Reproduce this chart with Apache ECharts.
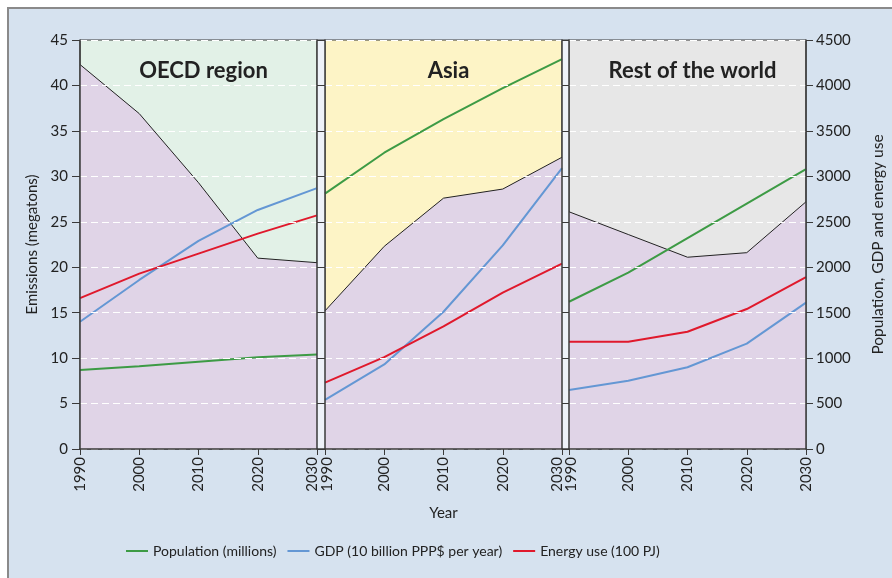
<!DOCTYPE html>
<html>
<head>
<meta charset="utf-8">
<script src="https://cdn.jsdelivr.net/npm/echarts@6/dist/echarts.min.js"></script>
<style>
html,body{margin:0;padding:0;background:#fff;}
#chart{width:892px;height:578px;}
</style>
</head>
<body>
<div id="chart"></div>
<script>
const years = [1990, 2000, 2010, 2020, 2030];
const panelTitles = ['OECD region', 'Asia', 'Rest of the world'];
const seriesNames = ['Population (millions)', 'GDP (10 billion PPP$ per year)', 'Energy use (100 PJ)'];

const oecdEmissions = [42.3, 36.9, 29.3, 21.0, 20.5];
const oecdPopulation = [870, 910, 960, 1010, 1040];
const oecdGdp = [1400, 1860, 2290, 2630, 2870];
const oecdEnergy = [1660, 1930, 2150, 2370, 2570];

const asiaEmissions = [15.2, 22.3, 27.6, 28.6, 32.1];
const asiaPopulation = [2810, 3260, 3630, 3970, 4290];
const asiaGdp = [540, 930, 1510, 2240, 3090];
const asiaEnergy = [730, 1010, 1350, 1720, 2040];

const rowEmissions = [26.1, 23.6, 21.1, 21.6, 27.2];
const rowPopulation = [1620, 1940, 2320, 2700, 3080];
const rowGdp = [650, 750, 900, 1160, 1610];
const rowEnergy = [1180, 1180, 1290, 1540, 1890];

const emissionTicks = {min: 0, max: 45, interval: 5};
const otherTicks = {min: 0, max: 4500, interval: 500};

const panels = [
  {title: panelTitles[0], emissions: oecdEmissions, pop: oecdPopulation, gdp: oecdGdp, energy: oecdEnergy, bg: '#e2f1e7'},
  {title: panelTitles[1], emissions: asiaEmissions, pop: asiaPopulation, gdp: asiaGdp, energy: asiaEnergy, bg: '#fdf4c6'},
  {title: panelTitles[2], emissions: rowEmissions, pop: rowPopulation, gdp: rowGdp, energy: rowEnergy, bg: '#e7e7e7'}
];

const FONT = 'Lato, "Open Sans", sans-serif';
const lineColors = ['#3d9b45', '#6497d4', '#e0192c'];
const purple = '#e0d4e7';
const axisColor = '#3a3a3a';
const textColor = '#222222';
const gridLefts = [80, 325, 569];
const gridW = 237, gridTop = 40, gridH = 409;

const pairs = (vals) => years.map((y, i) => [y, vals[i]]);
const plain = (v) => String(v);
const labelStyle = {fontSize: 15, color: textColor, fontFamily: FONT};

const grids = [], xAxes = [], yAxes = [], series = [], titles = [];
panels.forEach((p, k) => {
  const shiftMin = k > 0, shiftMax = k < 2;
  grids.push({left: gridLefts[k], top: gridTop, width: gridW, height: gridH, show: true,
    backgroundColor: p.bg, borderColor: axisColor, borderWidth: 1});
  xAxes.push({type: 'value', gridIndex: k, min: years[0], max: years[years.length - 1], interval: 10, z: 10,
    axisLine: {show: true, onZero: false, lineStyle: {color: axisColor, width: 1.5}},
    axisTick: {show: true, length: 6, lineStyle: {color: axisColor}},
    axisLabel: Object.assign({rotate: 90, margin: 8,
      formatter: (v) => {
        if (v === years[0] && shiftMin) return '{lo|' + v + '}';
        if (v === years[years.length - 1] && shiftMax) return '{hi|' + v + '}';
        return '{n|' + v + '}';
      },
      rich: {
        n: Object.assign({}, labelStyle),
        lo: Object.assign({padding: [5, 0, 0, 0]}, labelStyle),
        hi: Object.assign({padding: [0, 0, 10, 0]}, labelStyle)
      }}, labelStyle),
    splitLine: {show: false},
    name: k === 1 ? 'Year' : '', nameLocation: 'middle', nameGap: 57,
    nameTextStyle: {fontSize: 15, color: textColor, fontFamily: FONT}});
  yAxes.push(Object.assign({type: 'value', gridIndex: k, position: 'left', z: 10,
    axisLine: {show: true, lineStyle: {color: axisColor, width: 1.5}},
    axisTick: {show: true, length: k === 0 ? 8 : 4, lineStyle: {color: axisColor}},
    axisLabel: Object.assign({show: k === 0, margin: 12, formatter: plain}, labelStyle),
    splitLine: {show: true, lineStyle: {color: '#ffffff', type: [7, 4], width: 1}},
    name: k === 0 ? 'Emissions (megatons)' : '', nameLocation: 'middle', nameGap: 40,
    nameTextStyle: {fontSize: 15, color: textColor, fontFamily: FONT}}, emissionTicks));
  yAxes.push(Object.assign({type: 'value', gridIndex: k, position: 'right', z: 10,
    axisLine: {show: true, lineStyle: {color: axisColor, width: 1.5}},
    axisTick: {show: true, length: k === 2 ? 7 : 4, lineStyle: {color: axisColor}},
    axisLabel: Object.assign({show: k === 2, margin: 10, formatter: plain}, labelStyle),
    splitLine: {show: false},
    name: k === 2 ? 'Population, GDP and energy use' : '', nameLocation: 'middle', nameGap: 64,
    nameTextStyle: {fontSize: 15.5, color: textColor, fontFamily: FONT}}, otherTicks));
  series.push({type: 'line', name: 'Emissions', xAxisIndex: k, yAxisIndex: 2 * k, data: pairs(p.emissions),
    symbol: 'none', silent: true, z: 2,
    lineStyle: {color: '#222', width: 1}, areaStyle: {color: purple, opacity: 1}});
  [p.pop, p.gdp, p.energy].forEach((vals, j) => {
    series.push({type: 'line', name: seriesNames[j], xAxisIndex: k, yAxisIndex: 2 * k + 1, data: pairs(vals),
      symbol: 'none', z: 3, color: lineColors[j], lineStyle: {color: lineColors[j], width: 2}});
  });
  titles.push({text: p.title, left: gridLefts[k] + gridW / 2, top: 55, textAlign: 'center',
    textStyle: {fontSize: 22, fontWeight: 'bold', color: textColor, fontFamily: FONT}});
});

const gapRects = [];
for (let k = 0; k < 2; k++) {
  const x0 = gridLefts[k] + gridW, x1 = gridLefts[k + 1];
  gapRects.push({type: 'rect', z: 0, shape: {x: x0, y: gridTop, width: x1 - x0, height: gridH},
    style: {fill: '#eef2f9'}});
  gapRects.push({type: 'line', z: 0, shape: {x1: x0, y1: gridTop + gridH, x2: x1, y2: gridTop + gridH},
    style: {stroke: axisColor, lineWidth: 1.5}});
  gapRects.push({type: 'line', z: 0, shape: {x1: x0, y1: gridTop, x2: x1, y2: gridTop},
    style: {stroke: axisColor, lineWidth: 1}});
}

const chart = echarts.init(document.getElementById('chart'), null, {renderer: 'canvas'});
chart.setOption({
  backgroundColor: '#ffffff',
  animation: false,
  title: titles,
  graphic: [
    {type: 'rect', z: -10, silent: true, shape: {x: 8, y: 8, width: 900, height: 600},
      style: {fill: '#d6e2ef', stroke: '#8a8a8a', lineWidth: 2}}
  ].concat(gapRects),
  legend: {data: seriesNames, left: 121, top: 539, icon: 'rect', itemWidth: 22, itemHeight: 2, itemGap: 11,
    textStyle: {fontSize: 14, color: textColor, fontFamily: FONT}},
  grid: grids,
  xAxis: xAxes,
  yAxis: yAxes,
  series: series
});
</script>
</body>
</html>
